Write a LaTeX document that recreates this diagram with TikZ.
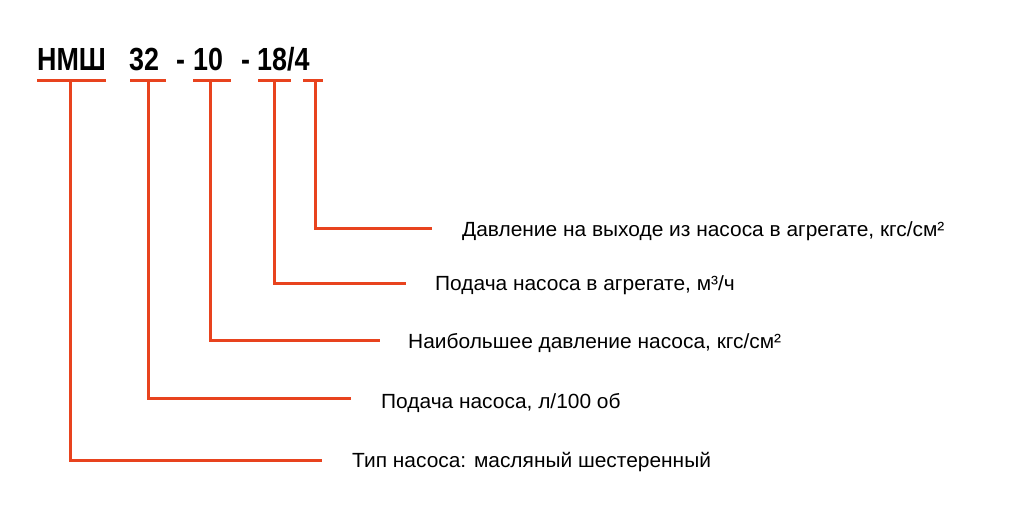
\documentclass[tikz,border=0pt]{standalone}
\usepackage{fontspec}
\setmainfont{Liberation Sans}
\definecolor{rl}{HTML}{E8431E}
\begin{document}
\begin{tikzpicture}[x=1pt,y=-1pt,
  ln/.style={rl,line width=3pt},
  lab/.style={anchor=west,inner sep=0pt,font=\fontsize{20.5}{22}\selectfont,xscale=1.02},
  big/.style={anchor=base west,inner sep=0pt,font=\bfseries\fontsize{32}{34}\selectfont,xscale=0.84}]
\useasboundingbox (0,0) rectangle (1024,505);
\node[big] (t1) at (37,71) {НМШ};
\node[big] (t2) at (129,71) {32};
\node[big] (d1) at (176,71) {-};
\node[big] (t3) at (193,71) {10};
\node[big] (d2) at (241,71) {-};
\node[big] (t4) at (257,71) {18/4};
\foreach \a/\b in {37/106,130/166,193/231,258/291,303/323}
  \draw[ln] (\a,81) -- (\b,81);
\node[lab] (l1) at (352,462) {Тип насоса: масляный шестеренный};
\node[lab] (l2) at (381,403) {Подача насоса, л/100 об};
\node[lab] (l3) at (408,343) {Наибольшее давление насоса, кгс/см²};
\node[lab] (l4) at (435,285) {Подача насоса в агрегате, м³/ч};
\node[lab] (l5) at (462,231) {Давление на выходе из насоса в агрегате, кгс/см²};
\draw[ln] (70,81) |- (322,460);
\draw[ln] (148,81) |- (351,398);
\draw[ln] (210,81) |- (380,340);
\draw[ln] (274,81) |- (406,283);
\draw[ln] (315,81) |- (432,228);
\end{tikzpicture}
\end{document}
